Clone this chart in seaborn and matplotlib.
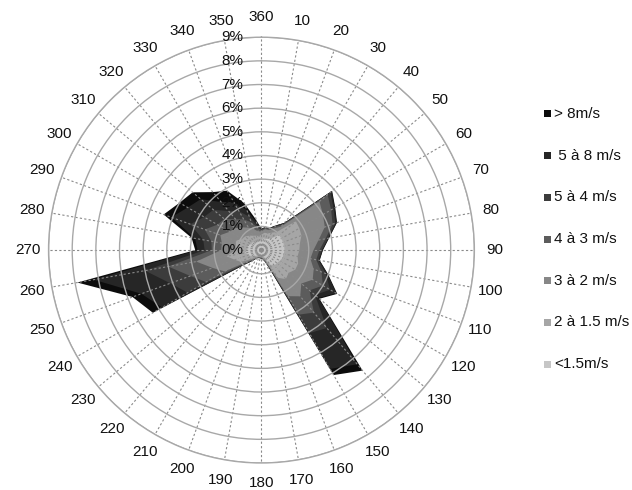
import numpy as np
import seaborn as sns
import matplotlib.pyplot as plt
from matplotlib.patches import Rectangle
from matplotlib.transforms import offset_copy

# Directions (degrees) and their labels
directions = list(range(0, 360, 10))
dir_labels = ["360"] + [str(d) for d in range(10, 360, 10)]

# Frequency (%) per speed class, one value per direction
lt_1_5 = [0.45, 0.5, 0.5, 0.55, 0.65, 1.0, 1.0, 1.0, 1.0, 1.0, 0.95, 0.95,
          0.9, 0.85, 0.85, 0.7, 0.3, 0.25, 0.22, 0.22, 0.22, 0.25, 0.3, 0.4,
          0.5, 0.6, 0.7, 0.6, 0.6, 0.6, 0.5, 0.5, 0.45, 0.4, 0.4, 0.4]
s_1_5_2 = [0.2, 0.25, 0.25, 0.3, 0.35, 0.9, 0.85, 0.8, 0.65, 0.6, 0.6, 0.7,
           0.75, 0.65, 0.75, 0.65, 0.12, 0.08, 0.07, 0.07, 0.07, 0.08, 0.12, 0.2,
           0.5, 0.6, 0.8, 0.5, 0.5, 0.55, 0.45, 0.4, 0.35, 0.3, 0.25, 0.2]
s_2_3 = [0.15, 0.15, 0.15, 0.2, 0.3, 1.3, 1.15, 1.05, 0.8, 0.6, 0.55, 0.7,
         0.85, 0.7, 0.95, 0.9, 0.08, 0.04, 0.03, 0.03, 0.03, 0.04, 0.08, 0.15,
         0.8, 1.0, 1.3, 0.6, 0.6, 0.7, 0.6, 0.55, 0.45, 0.4, 0.3, 0.2]
s_3_4 = [0.05, 0.05, 0.05, 0.08, 0.1, 0.45, 0.4, 0.35, 0.3, 0.25, 0.25, 0.35,
         0.5, 0.45, 0.9, 0.9, 0.05, 0.02, 0.02, 0.02, 0.02, 0.02, 0.05, 0.1,
         0.9, 1.0, 1.2, 0.4, 0.45, 0.7, 0.6, 0.6, 0.45, 0.4, 0.3, 0.15]
s_4_5 = [0.03, 0.03, 0.03, 0.04, 0.05, 0.15, 0.12, 0.12, 0.1, 0.1, 0.1, 0.18,
         0.35, 0.3, 0.85, 0.9, 0.03, 0.01, 0.01, 0.01, 0.01, 0.01, 0.03, 0.07,
         0.9, 0.9, 1.0, 0.3, 0.35, 0.65, 0.65, 0.6, 0.45, 0.4, 0.25, 0.1]
s_5_8 = [0.02, 0.02, 0.02, 0.03, 0.05, 0.08, 0.06, 0.06, 0.04, 0.04, 0.04, 0.1,
         0.3, 0.2, 2.0, 1.75, 0.02, 0, 0, 0, 0, 0, 0.02, 0.06,
         1.25, 1.3, 2.2, 0.3, 0.35, 0.85, 0.8, 0.7, 0.5, 0.45, 0.3, 0.15]
gt_8 = [0, 0, 0, 0, 0, 0.02, 0.02, 0.02, 0.01, 0.01, 0.01, 0.02,
        0.05, 0.05, 0.35, 0.3, 0, 0, 0, 0, 0, 0, 0, 0.02,
        0.45, 0.4, 0.7, 0.1, 0.15, 0.35, 0.4, 0.45, 0.55, 0.55, 0.3, 0.1]

classes = ["<1.5m/s", "2 à 1.5 m/s", "3 à 2 m/s", "4 à 3 m/s",
           "5 à 4 m/s", " 5 à 8 m/s", "> 8m/s"]
colors = ["#c6c6c6", "#a6a6a6", "#878787", "#5c5c5c",
          "#3c3c3c", "#262626", "#0c0c0c"]

sns.set_theme(style="white")
plt.rcParams['font.family'] = ['Liberation Sans', 'DejaVu Sans']

fig = plt.figure(figsize=(6.32, 4.90), dpi=100)
ax = fig.add_axes([0.0767, 0.0551, 0.674, 0.869], projection='polar')
ax.set_theta_zero_location('N')
ax.set_theta_direction(-1)

theta = np.deg2rad(directions + [directions[0]])
stacked = np.cumsum(np.vstack([lt_1_5, s_1_5_2, s_2_3, s_3_4, s_4_5, s_5_8, gt_8]), axis=0)

# outermost (cumulative) layer first, smaller ones on top
for i in range(len(classes) - 1, -1, -1):
    r = list(stacked[i]) + [stacked[i][0]]
    ax.fill(theta, r, color=colors[i], lw=0, zorder=1)

ax.set_ylim(0, 9)
ax.set_yticks(range(1, 10))
ax.set_yticklabels([])
ax.set_xticks(np.deg2rad(directions))
ax.set_xticklabels(dir_labels, fontsize=11, color='#111111')
ax.tick_params(axis='x', pad=1.5)
ax.set_axisbelow(False)
ax.xaxis.grid(True, color='#8a8a8a', linestyle=(0, (2, 2)), lw=0.8, zorder=3)
ax.yaxis.grid(True, color='#a8a8a8', linestyle='-', lw=1.0, zorder=3)
ax.spines['polar'].set_color('#a8a8a8')
ax.spines['polar'].set_linewidth(1.0)

# percentage labels along the vertical axis
trans = offset_copy(ax.transData, fig=fig, x=-18, y=0, units='dots')
for k in range(0, 10):
    ax.text(0, k, f"{k}%", transform=trans, ha='right', va='center',
            fontsize=11, color='#111111', zorder=5)

# legend on the right
W, H = 632, 490
for j, i in enumerate(range(len(classes) - 1, -1, -1)):
    yc = 114 + j * 41.7
    fig.add_artist(Rectangle((544 / W, (H - yc - 3.5) / H), 7 / W, 7 / H,
                             transform=fig.transFigure, color=colors[i], lw=0))
    fig.text(554 / W, (H - yc) / H, classes[i], fontsize=11, color='#111111',
             ha='left', va='center')

fig.savefig('out.png', dpi=100)
